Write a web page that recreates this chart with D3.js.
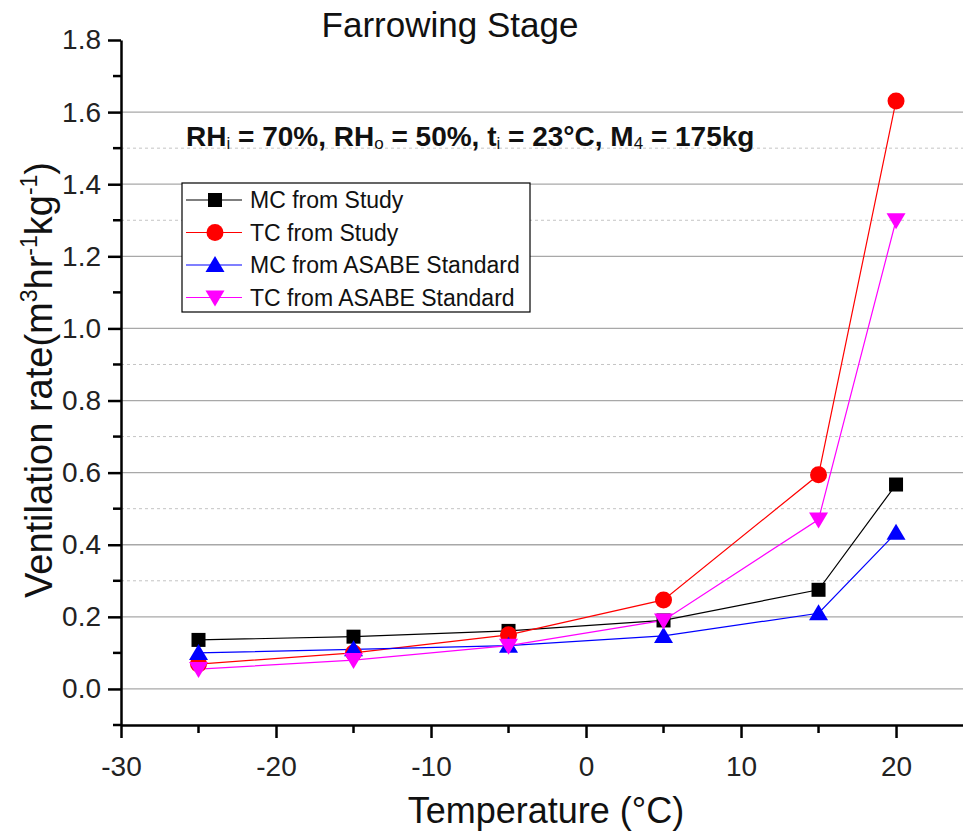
<!DOCTYPE html>
<html>
<head>
<meta charset="utf-8">
<script src="https://cdn.jsdelivr.net/npm/d3@7"></script>
<style>
  body { margin: 0; background: #fff; }
  svg { font-family: "Liberation Sans", Arial, sans-serif; }
</style>
</head>
<body>
<div id="chart"></div>
<script>
// chart data
const temps = [-25, -15, -5, 5, 15, 20];
const mcStudy = [0.136, 0.145, 0.161, 0.19, 0.275, 0.567];
const tcStudy = [0.069, 0.10, 0.15, 0.247, 0.594, 1.631];
const mcAsabe = [0.10, 0.11, 0.12, 0.147, 0.21, 0.433];
const tcAsabe = [0.055, 0.08, 0.12, 0.19, 0.47, 1.30];
const seriesNames = ["MC from Study", "TC from Study", "MC from ASABE Standard", "TC from ASABE Standard"];
const xTicks = [-30, -20, -10, 0, 10, 20];
const xMinorTicks = [-25, -15, -5, 5, 15];
const yTicks = [0.0, 0.2, 0.4, 0.6, 0.8, 1.0, 1.2, 1.4, 1.6, 1.8];
const yMinorTicks = [-0.1, 0.1, 0.3, 0.5, 0.7, 0.9, 1.1, 1.3, 1.5, 1.7];
// dotted grid lines that show in the picture
const yDashedGrid = [0.3, 0.5, 0.7, 0.9, 1.3, 1.5];

const width = 963, height = 836;
const margin = {top: 40, right: 0, bottom: 111, left: 121};

const svg = d3.select("#chart").append("svg")
    .attr("width", width)
    .attr("height", height);

const x = d3.scaleLinear().domain([-30, 24.32]).range([margin.left, width - margin.right]);
const y = d3.scaleLinear().domain([-0.1, 1.8]).range([height - margin.bottom, margin.top]);

// grid lines
svg.append("g").selectAll("line")
    .data(yDashedGrid)
    .enter().append("line")
    .attr("x1", x(-30)).attr("x2", width)
    .attr("y1", d => y(d)).attr("y2", d => y(d))
    .attr("stroke", "#c4c4c4")
    .attr("stroke-dasharray", "3,3")
    .attr("stroke-width", 1);
svg.append("g").selectAll("line")
    .data(yTicks.filter(d => d < 1.8))
    .enter().append("line")
    .attr("x1", x(-30)).attr("x2", width)
    .attr("y1", d => y(d)).attr("y2", d => y(d))
    .attr("stroke", "#a8a8a8")
    .attr("stroke-width", 1.3);

// axes
const xAxis = svg.append("g")
    .attr("transform", `translate(0,${y(-0.1)})`)
    .call(d3.axisBottom(x).tickValues(xTicks).tickFormat(d => String(d))
      .tickSize(13).tickPadding(14).tickSizeOuter(0));
xAxis.append("g").selectAll("line")
    .data(xMinorTicks)
    .enter().append("line")
    .attr("x1", d => x(d)).attr("x2", d => x(d))
    .attr("y1", 0).attr("y2", 8)
    .attr("stroke", "#000").attr("stroke-width", 2.5);

const yAxis = svg.append("g")
    .attr("transform", `translate(${x(-30)},0)`)
    .call(d3.axisLeft(y).tickValues(yTicks).tickFormat(d3.format(".1f"))
      .tickSize(13).tickPadding(7).tickSizeOuter(0));
yAxis.append("g").selectAll("line")
    .data(yMinorTicks)
    .enter().append("line")
    .attr("y1", d => y(d)).attr("y2", d => y(d))
    .attr("x1", 0).attr("x2", -8)
    .attr("stroke", "#000").attr("stroke-width", 2.5);

svg.selectAll(".domain").attr("stroke", "#000").attr("stroke-width", 2.5);
svg.selectAll(".tick line").attr("stroke", "#000").attr("stroke-width", 2.5);
svg.selectAll(".tick text").attr("font-size", 28).attr("fill", "#222")
    .attr("font-family", "'Liberation Sans', Arial, sans-serif");
xAxis.selectAll(".tick text").attr("dy", "0.85em");

// series
const series = [
  {name: seriesNames[0], values: mcStudy, color: "#000000", shape: "square"},
  {name: seriesNames[1], values: tcStudy, color: "#ff0000", shape: "circle"},
  {name: seriesNames[2], values: mcAsabe, color: "#0000ff", shape: "up"},
  {name: seriesNames[3], values: tcAsabe, color: "#ff00ff", shape: "down"}
];

function marker(g, shape, color) {
  if (shape === "square") {
    g.append("rect").attr("x", -7).attr("y", -7).attr("width", 14).attr("height", 14).attr("fill", color);
  } else if (shape === "circle") {
    g.append("circle").attr("r", 8.5).attr("fill", color);
  } else if (shape === "up") {
    g.append("path").attr("d", "M0,-9L9.5,7L-9.5,7Z").attr("fill", color);
  } else {
    g.append("path").attr("d", "M0,9L9.5,-7L-9.5,-7Z").attr("fill", color);
  }
}

const line = d3.line().x(d => x(d[0])).y(d => y(d[1]));

series.forEach(s => {
  const pts = temps.map((t, i) => [t, s.values[i]]);
  svg.append("path")
    .datum(pts)
    .attr("d", line)
    .attr("fill", "none")
    .attr("stroke", s.color)
    .attr("stroke-width", 1.2);
});
// markers after the lines
series.forEach(s => {
  temps.forEach((t, i) => {
    const g = svg.append("g").attr("transform", `translate(${x(t)},${y(s.values[i])})`);
    marker(g, s.shape, s.color);
  });
});

// legend
const legend = svg.append("g");
legend.append("rect")
    .attr("x", 182).attr("y", 183).attr("width", 348).attr("height", 129)
    .attr("fill", "#fff").attr("stroke", "#000").attr("stroke-width", 1.2);
series.forEach((s, i) => {
  const ly = 200 + i * 32.5;
  legend.append("line")
    .attr("x1", 186).attr("x2", 242).attr("y1", ly).attr("y2", ly)
    .attr("stroke", s.color).attr("stroke-width", 1.2);
  const g = legend.append("g").attr("transform", `translate(215,${ly})`);
  marker(g, s.shape, s.color);
  legend.append("text")
    .attr("x", 250).attr("y", ly + 8)
    .attr("font-size", 23).attr("fill", "#111")
    .text(s.name);
});

// title
svg.append("text")
    .attr("x", 450).attr("y", 37)
    .attr("text-anchor", "middle")
    .attr("font-size", 35).attr("fill", "#111")
    .text("Farrowing Stage");

// annotation with subscripts
const note = svg.append("text")
    .attr("x", 186).attr("y", 146)
    .attr("font-size", 28).attr("font-weight", "bold").attr("fill", "#111");
const parts = [["RH", ""], ["i", "sub"], [" = 70%, RH", ""], ["o", "sub"], [" = 50%, t", ""], ["i", "sub"],
               [" = 23°C, M", ""], ["4", "sub"], [" = 175kg", ""]];
parts.forEach((p, i) => {
  const t = note.append("tspan").text(p[0]);
  if (p[1] === "sub") t.attr("font-size", 17).attr("font-weight", "normal").attr("dy", 3);
  else if (i > 0) t.attr("dy", -3);
});

// axis titles
svg.append("text")
    .attr("x", 546).attr("y", 823)
    .attr("text-anchor", "middle")
    .attr("font-size", 36).attr("fill", "#111")
    .text("Temperature (°C)");

const yl = svg.append("text")
    .attr("transform", "translate(52,380) rotate(-90)")
    .attr("text-anchor", "middle")
    .attr("font-size", 38).attr("fill", "#111");
yl.append("tspan").text("Ventilation rate(m");
yl.append("tspan").text("3").attr("font-size", 23).attr("dy", -15);
yl.append("tspan").text("hr").attr("dy", 15);
yl.append("tspan").text("-1").attr("font-size", 23).attr("dy", -15);
yl.append("tspan").text("kg").attr("dy", 15);
yl.append("tspan").text("-1").attr("font-size", 23).attr("dy", -15);
yl.append("tspan").text(")").attr("dy", 15);
</script>
</body>
</html>
